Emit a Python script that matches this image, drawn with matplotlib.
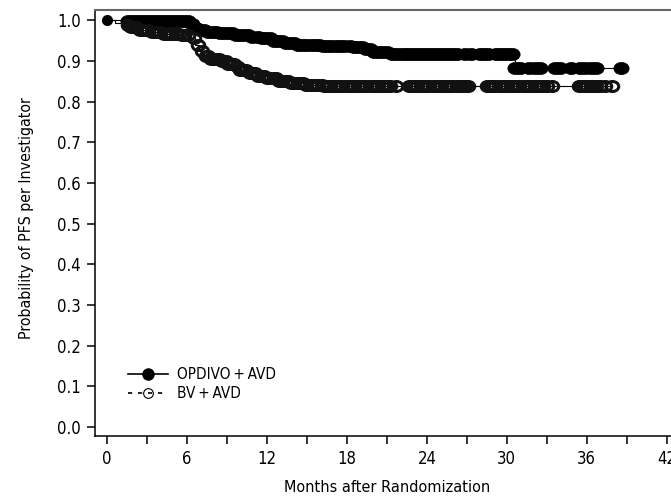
import numpy as np
import matplotlib
matplotlib.use('Agg')
import matplotlib.pyplot as plt
from matplotlib import font_manager
from matplotlib.lines import Line2D
from matplotlib.path import Path
from matplotlib.transforms import Affine2D
from matplotlib.ticker import MultipleLocator

# buscar una fuente estrecha instalada (la original es condensada)
narrow = [f for f in font_manager.fontManager.ttflist
          if ('Narrow' in f.name or 'Condensed' in f.name
              or f.stretch in ('condensed', 'semi-condensed', 'extra-condensed'))
          and 'Serif' not in f.name and 'Mono' not in f.name
          and f.style == 'normal' and f.weight in (400, 'normal', 'regular')]
if narrow:
    plt.rcParams['font.family'] = [narrow[0].name, 'DejaVu Sans']
    plt.rcParams['font.stretch'] = narrow[0].stretch
else:
    plt.rcParams['font.family'] = ['DejaVu Sans']

# Kaplan-Meier, OPDIVO + AVD: tiempos de evento (meses) y supervivencia tras cada evento
opdivo_t = [0, 1.5, 6.4, 6.7, 7.0, 7.6, 8.3, 9.5, 10.8, 11.6, 12.5, 13.3, 14.3, 16.0,
            18.5, 19.3, 20.0, 21.4, 30.6]
opdivo_s = [1.0, 0.997, 0.99, 0.98, 0.975, 0.971, 0.968, 0.963, 0.958, 0.955, 0.950,
            0.945, 0.940, 0.937, 0.933, 0.928, 0.922, 0.917, 0.882]
opdivo_end = 38.6
opdivo_cens = [1.6, 1.9, 2.2, 2.5, 2.8, 3.1, 3.4, 3.7, 4.0, 4.3, 4.6, 4.9, 5.2, 5.5, 5.8,
               6.1, 6.4, 6.7, 7.0, 7.3, 7.6, 7.9, 8.2, 8.5, 8.8, 9.1, 9.4, 9.7, 10.0, 10.3,
               10.6, 10.9, 11.3, 11.6, 11.9, 12.2, 12.5, 12.8, 13.1, 13.4, 13.7, 14.0, 14.3,
               14.6, 14.9, 15.3, 15.6, 15.9, 16.2, 16.5, 16.8, 17.2, 17.5, 17.8, 18.2, 18.5,
               18.8, 19.1, 19.4, 19.7, 20.0, 20.3, 20.6, 21.0, 21.4, 21.7, 22.1, 22.4, 22.7,
               23.0, 23.3, 23.6, 23.9, 24.2, 24.5, 24.8, 25.1, 25.4, 25.7, 26.0, 26.3,
               26.9, 27.3, 28.0, 28.3, 28.6, 29.2, 29.5, 29.8, 30.1, 30.4,
               30.6, 31.0, 31.7, 32.1, 32.5, 33.6, 34.0, 34.8, 35.5, 35.9, 36.3, 36.7, 38.6]

# Kaplan-Meier, BV + AVD
bv_t = [0, 0.6, 1.2, 1.8, 2.5, 3.3, 4.3, 5.5, 6.3, 6.6, 6.9, 7.3, 7.8, 8.6, 9.0, 9.6,
        10.0, 10.6, 11.3, 12.0, 12.8, 13.8, 14.8, 16.2]
bv_s = [1.0, 0.994, 0.988, 0.982, 0.977, 0.972, 0.967, 0.963, 0.955, 0.94, 0.925, 0.912,
        0.905, 0.900, 0.893, 0.885, 0.877, 0.870, 0.862, 0.857, 0.851, 0.846, 0.841, 0.837]
bv_end = 37.9
bv_cens = [1.6, 1.8, 2.0, 2.2, 2.5, 2.7, 2.9, 3.1, 3.4, 3.6, 3.8, 4.0, 4.3, 4.5, 4.7, 4.9,
           5.2, 5.4, 5.6, 5.8, 6.1, 6.5, 6.8, 7.1, 7.4, 7.6, 7.8, 8.0, 8.2, 8.4, 8.6, 8.9,
           9.1, 9.3, 9.5, 9.8, 10.0, 10.2, 10.4, 10.7, 10.9, 11.1, 11.3, 11.6, 11.8, 12.0,
           12.2, 12.5, 12.7, 12.9, 13.1, 13.4, 13.6, 13.8, 14.0, 14.3, 14.5, 14.7, 14.9,
           15.2, 15.4, 15.6, 15.8, 16.1, 16.3, 16.5, 16.7, 17.0, 17.2, 17.4, 17.6, 17.9,
           18.1, 18.3, 18.5, 18.8, 19.0, 19.2, 19.4, 19.7, 19.9, 20.1, 20.3, 20.6, 20.8,
           21.0, 21.2, 21.7,
           22.7, 22.9, 23.1, 23.3, 23.6, 23.8, 24.0, 24.2, 24.5, 24.7, 24.9, 25.1, 25.4,
           25.6, 25.8, 26.0, 26.3, 26.5, 26.7, 26.9, 27.1,
           28.5, 28.7, 28.9, 29.1, 29.4, 29.6, 29.8, 30.0, 30.3, 30.5, 30.7, 30.9, 31.2,
           31.4, 31.6, 31.8, 32.1, 32.3, 32.5, 32.7, 33.0, 33.4,
           35.4, 35.6, 35.8, 36.0, 36.3, 36.5, 36.7, 37.0, 37.4, 37.9]

xticks = [0, 6, 12, 18, 24, 30, 36, 42]
yticks = [0.0, 0.1, 0.2, 0.3, 0.4, 0.5, 0.6, 0.7, 0.8, 0.9, 1.0]
labels = ['OPDIVO\u2009+\u2009AVD', 'BV\u2009+\u2009AVD']


def km_level(times, surv, x):
    idx = np.searchsorted(np.array(times), np.array(x), side='right') - 1
    return np.array(surv)[idx]


# marcador eliptico (la figura original esta algo estirada en horizontal)
ellipse = Path.unit_circle().transformed(Affine2D().scale(1.0, 0.8))

fig = plt.figure(figsize=(6.71, 4.97), dpi=100)
ax = fig.add_axes([95/671, 1 - 436/497, 605/671, 426/497])

for t, s, end, cens, filled in [(opdivo_t, opdivo_s, opdivo_end, opdivo_cens, True),
                                (bv_t, bv_s, bv_end, bv_cens, False)]:
    tt = list(t) + [end]
    ss = list(s) + [s[-1]]
    ax.step(tt, ss, where='post', color='black', lw=0.8, zorder=3)
    cy = km_level(t, s, cens)
    if filled:
        ax.plot(cens, cy, ls='none', marker=ellipse, ms=11, mfc='black', mec='black',
                mew=0.5, zorder=4)
    else:
        ax.plot(cens, cy, ls='none', marker=ellipse, ms=9, mfc='none', mec='#111111',
                mew=2.2, zorder=4)

# punto inicial
ax.plot([0], [1.0], ls='none', marker='o', ms=7, color='black', zorder=5)

ax.set_xlim(-0.9, 44.5)
ax.set_ylim(-0.0224, 1.025)
ax.set_xticks(xticks)
ax.xaxis.set_minor_locator(MultipleLocator(3))
ax.set_yticks(yticks)
ax.set_yticklabels([f'{v:.1f}' for v in yticks])
ax.tick_params(axis='both', which='both', direction='out', length=6, width=1.1,
               labelsize=12, colors='black')
ax.tick_params(axis='x', pad=4)
ax.tick_params(axis='y', pad=4)

for side in ['left', 'bottom']:
    ax.spines[side].set_linewidth(1.1)
ax.spines['top'].set_color('#666666')
ax.spines['top'].set_linewidth(1.5)
ax.spines['right'].set_visible(False)

ax.set_xlabel('Months after Randomization', fontsize=11.6)
ax.set_ylabel('Probability of PFS per Investigator', fontsize=11.4)
ax.xaxis.set_label_coords(0.483, -0.103)
ax.yaxis.set_label_coords(-0.100, 0.512)

handles = [
    Line2D([], [], color='black', lw=1.2, marker='o', ms=8, mfc='black'),
    Line2D([], [], color='black', lw=1.2, ls=(0, (2.5, 3.5)), marker='o', ms=7,
           mfc='none', mec='black', mew=0.8),
]
ax.legend(handles, labels, loc='lower left',
          bbox_to_anchor=(0.055, 0.082), frameon=False, fontsize=11, borderpad=0,
          borderaxespad=0, handlelength=2.6, handletextpad=0.6, labelspacing=0.25)

fig.savefig('out.png', dpi=100)
